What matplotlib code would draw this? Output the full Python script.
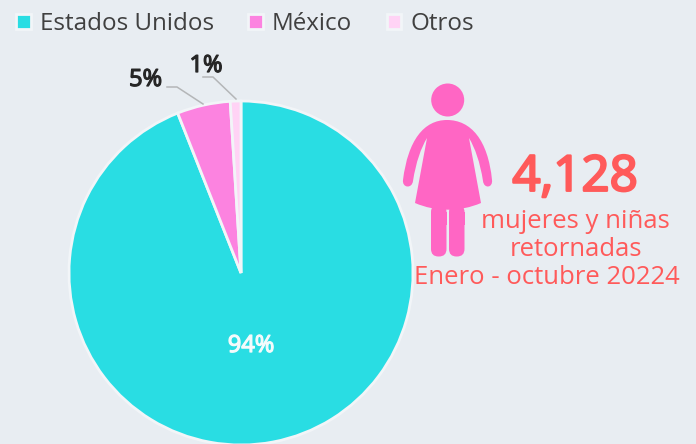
#!/usr/bin/env python3
"""Pie of returned women and girls by country, with the icon and total on the right."""

import matplotlib
matplotlib.use("Agg")

import matplotlib.patheffects as pe
import matplotlib.pyplot as plt
from matplotlib.patches import Circle, FancyBboxPatch, PathPatch
from matplotlib.path import Path

plt.rcParams["font.family"] = ["Open Sans", "DejaVu Sans"]

CATEGORIES = ["Estados Unidos", "México", "Otros"]
SHARES = [94, 5, 1]
SHARE_LABELS = ["94%", "5%", "1%"]
COLORS = ["#29DDE3", "#FC83E0", "#FFD3F5"]

TOTAL = "4,128"
CAPTION = ["mujeres y niñas", "retornadas", "Enero - octubre 20224"]

BG = "#E8EDF2"
RED = "#FF5A5A"
ICON = "#FF66C4"
H = 444


def flip(points):
    return [(x, H - y) for x, y in points]


def add_icon(ax):
    ax.add_patch(Circle((447.7, H - 100), 16.5, color=ICON, lw=0))
    verts = [
        (447, 120),
        (424, 120), (408, 140), (403, 180),
        (402, 188), (412, 189), (413, 181),
        (416, 162), (421, 148), (427, 138),
        (415, 203),
        (436, 212), (460, 212), (481, 203),
        (469, 138),
        (475, 148), (480, 162), (483, 181),
        (484, 189), (493, 188), (492, 180),
        (488, 140), (471, 120), (447, 120),
    ]
    codes = [Path.MOVETO] + [Path.CURVE4] * 6 + [Path.CURVE4] * 3 + [Path.LINETO]
    codes += [Path.CURVE4] * 3 + [Path.LINETO] + [Path.CURVE4] * 9
    ax.add_patch(PathPatch(Path(flip(verts), codes), color=ICON, lw=0))
    for left in (431, 449):
        ax.add_patch(FancyBboxPatch((left + 7.5, H - 249), 0.5, 37,
                                    boxstyle="round,pad=7.5,rounding_size=7.5",
                                    color=ICON, lw=0, clip_on=False))
        # flat top of the legs sits just under the hem
        ax.add_patch(plt.Rectangle((left, H - 225), 15.5, 13, color=ICON, lw=0))


def share_label(ax, x, y, text, color):
    ax.text(x, H - y, text, color=color, fontsize=17, ha="center", va="center",
            path_effects=[pe.withStroke(linewidth=0.9, foreground=color)])


fig = plt.figure(figsize=(6.96, 4.44), dpi=100, facecolor=BG)
ax = fig.add_axes([0, 0, 1, 1])
ax.set_facecolor(BG)

wedges, _ = ax.pie(
    SHARES,
    colors=COLORS,
    startangle=90,
    counterclock=False,
    center=(241, H - 273),
    radius=172,
    wedgeprops={"edgecolor": "#F2F5F8", "linewidth": 2.0},
)
ax.set_xlim(0, 696)
ax.set_ylim(0, H)
ax.set_aspect("equal")
ax.axis("off")

share_label(ax, 251, 346, SHARE_LABELS[0], "#F4FBFC")
share_label(ax, 145.5, 80, SHARE_LABELS[1], "#262626")
share_label(ax, 206, 66, SHARE_LABELS[2], "#262626")

for line in ([(167, 87), (177, 87), (203, 104)], [(203, 77), (213, 77), (236, 99)]):
    xs, ys = zip(*flip(line))
    ax.plot(xs, ys, color="#B4B6B8", lw=1.1)

ax.legend(
    wedges, CATEGORIES, ncols=3, frameon=False, fontsize=17.4,
    labelcolor="#404040", handlelength=0.6, handleheight=0.6,
    handletextpad=0.37, columnspacing=1.43,
    loc="upper left", bbox_to_anchor=(-3 / 696, 1 + 7 / H),
    bbox_transform=fig.transFigure, borderpad=0.3,
)

add_icon(ax)

# no heavy weight of this face is installed, so thicken the regular outline
ax.text(575, H - 178, TOTAL, color=RED, fontsize=35.5, ha="center", va="center",
        path_effects=[pe.withStroke(linewidth=1.7, foreground=RED)])
for text, x, y in zip(CAPTION, (575.5, 576, 546.5), (221.5, 249, 278)):
    ax.text(x, H - y, text, color=RED, fontsize=18.5, ha="center", va="center")

fig.savefig("out.png", dpi=100, facecolor=BG)
plt.close(fig)
